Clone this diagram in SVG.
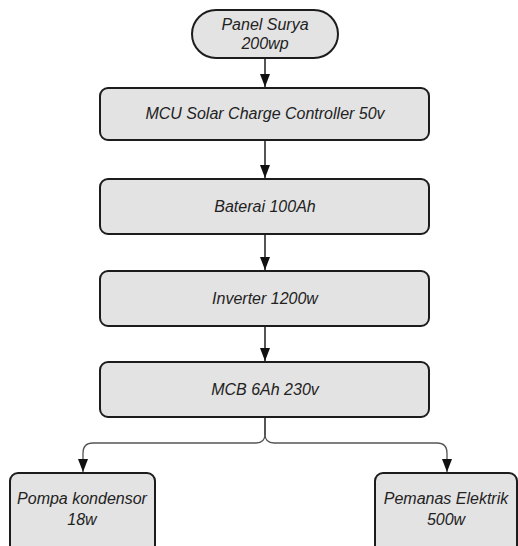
<svg xmlns="http://www.w3.org/2000/svg" width="518" height="546" viewBox="0 0 518 546">
<style>
.n{fill:#e3e3e3;stroke:#1c1c1c;stroke-width:2}
.t{font-family:"Liberation Sans",Arial,sans-serif;font-style:italic;font-size:16px;fill:#222;text-anchor:middle}
.c{fill:none;stroke:#1c1c1c;stroke-width:1.5}
.g{fill:none;stroke:#555;stroke-width:1.3}
</style>
<defs>
<marker id="ah" markerWidth="13" markerHeight="10" refX="13" refY="5" orient="auto" markerUnits="userSpaceOnUse" viewBox="0 0 13 10">
<path d="M0,0 L13,5 L0,10 Z" fill="#111"/>
</marker>
</defs>
<rect width="518" height="546" fill="#fff"/>
<g id="connectors">
<line class="c" x1="265" y1="59" x2="265" y2="87" marker-end="url(#ah)"/>
<line class="c" x1="265" y1="141" x2="265" y2="178" marker-end="url(#ah)"/>
<line class="c" x1="265" y1="234" x2="265" y2="270" marker-end="url(#ah)"/>
<line class="c" x1="265" y1="326" x2="265" y2="361" marker-end="url(#ah)"/>
<path class="c" d="M265,417 L265,435"/>
<path class="g" d="M265,434 Q265,443 256,443 L93,443 Q83,443 83,453 L83,472" marker-end="url(#ah)"/>
<path class="g" d="M265,434 Q265,443 274,443 L437,443 Q447,443 447,453 L447,472" marker-end="url(#ah)"/>
</g>
<g id="panel">
<rect class="n" x="192" y="10" width="146" height="48" rx="24"/>
<text class="t" x="265" y="30">Panel Surya</text>
<text class="t" x="265" y="49">200wp</text>
</g>
<g id="mcu">
<rect class="n" x="100" y="88" width="329" height="52" rx="8"/>
<text class="t" x="265" y="119">MCU Solar Charge Controller 50v</text>
</g>
<g id="baterai">
<rect class="n" x="100" y="179" width="329" height="55" rx="8"/>
<text class="t" x="265" y="212">Baterai 100Ah</text>
</g>
<g id="inverter">
<rect class="n" x="100" y="271" width="329" height="55" rx="8"/>
<text class="t" x="265" y="304">Inverter 1200w</text>
</g>
<g id="mcb">
<rect class="n" x="100" y="362" width="329" height="55" rx="8"/>
<text class="t" x="265" y="395">MCB 6Ah 230v</text>
</g>
<g id="pompa">
<rect class="n" x="10" y="473" width="145" height="90" rx="8"/>
<text class="t" x="82" y="504">Pompa kondensor</text>
<text class="t" x="82" y="525">18w</text>
</g>
<g id="pemanas">
<rect class="n" x="375" y="473" width="142" height="90" rx="8"/>
<text class="t" x="446" y="504">Pemanas Elektrik</text>
<text class="t" x="446" y="525">500w</text>
</g>
</svg>
